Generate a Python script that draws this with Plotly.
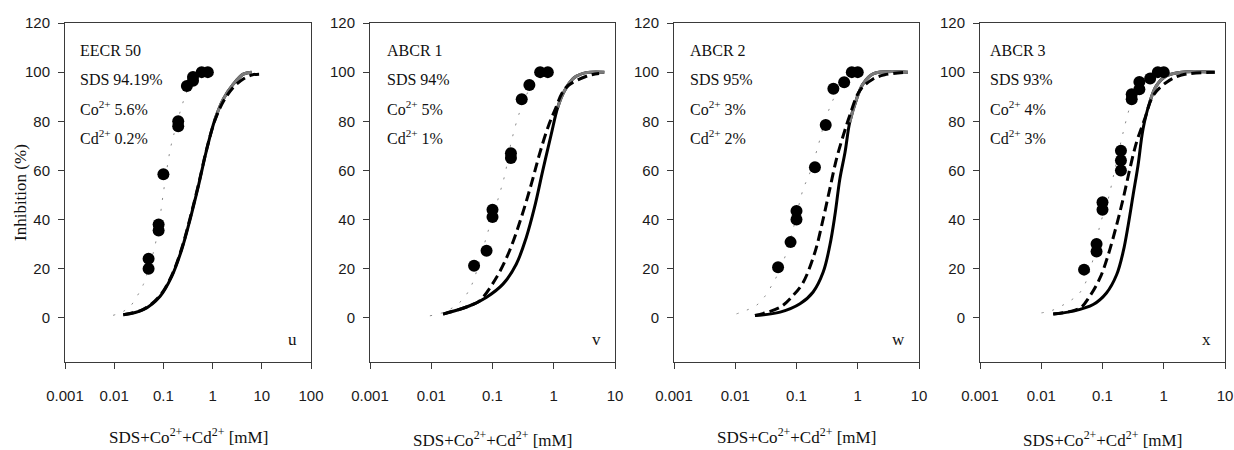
import plotly.graph_objects as go

# ---------------- data: EECR 50 ----------------
eecr50_conc = [0.05, 0.05, 0.08, 0.08, 0.1, 0.2, 0.2, 0.3, 0.4, 0.4, 0.6, 0.8]
eecr50_inh = [20, 24, 35.5, 38, 58.4, 78, 80, 94.4, 96.5, 98, 100, 100]
eecr50_fit_conc = [0.0095, 0.015, 0.021, 0.029, 0.039, 0.05, 0.065, 0.08, 0.1, 0.136, 0.16, 0.22, 0.3, 0.4, 0.6, 0.8]
eecr50_fit_inh = [1, 2.5, 4.6, 8.7, 13.5, 20, 28, 37, 51, 68, 74, 84, 92, 96, 99.5, 100]
eecr50_ca_conc = [0.0153, 0.039, 0.085, 0.148, 0.236, 0.348, 0.513, 0.76, 1.12, 1.65, 2.63, 4.2, 6.2]
eecr50_ca_inh = [1.2, 3.3, 8.7, 16.9, 27.8, 40, 53.6, 68.6, 80.8, 89, 95.1, 99.2, 100]
eecr50_ia_conc = [0.0153, 0.039, 0.085, 0.148, 0.236, 0.348, 0.513, 0.76, 1.12, 1.65, 2.63, 4.2, 6.2, 9.2]
eecr50_ia_inh = [1.2, 3.4, 9.0, 17.3, 28.3, 40.5, 54, 68.8, 80.5, 88, 93.8, 97.2, 98.8, 99.2]

# ---------------- data: ABCR 1 ----------------
abcr1_conc = [0.05, 0.08, 0.1, 0.1, 0.2, 0.2, 0.3, 0.4, 0.6, 0.8]
abcr1_inh = [21.2, 27.3, 41, 44, 65, 67, 89, 94.8, 100, 100]
abcr1_fit_conc = [0.0095, 0.015, 0.022, 0.033, 0.045, 0.06, 0.079, 0.1, 0.13, 0.16, 0.2, 0.28, 0.4, 0.51, 0.7, 0.9]
abcr1_fit_inh = [0.8, 2, 4, 7.6, 13, 22, 32.7, 41, 50.3, 58.5, 71, 84, 93, 96.4, 98.5, 99.5]
abcr1_ca_conc = [0.0156, 0.0425, 0.079, 0.148, 0.244, 0.356, 0.485, 0.66, 0.91, 1.16, 1.49, 2.17, 3.37, 6.7]
abcr1_ca_inh = [1.5, 4.9, 8.3, 13.7, 21.8, 32.7, 44.9, 59.8, 74.7, 85.6, 92.3, 97.8, 99.8, 100]
abcr1_ia_conc = [0.0156, 0.0425, 0.0616, 0.116, 0.19, 0.295, 0.43, 0.585, 0.80, 1.03, 1.58, 3.58, 5.5]
abcr1_ia_inh = [1.5, 4.9, 6.9, 16.4, 27.3, 40.8, 54.4, 66.6, 77.4, 84.2, 93.7, 98.5, 99.4]

# ---------------- data: ABCR 2 ----------------
abcr2_conc = [0.05, 0.08, 0.1, 0.1, 0.2, 0.3, 0.4, 0.6, 0.8, 1.0]
abcr2_inh = [20.6, 30.8, 40, 43.5, 61.3, 78.5, 93.2, 95.9, 100, 100]
abcr2_fit_conc = [0.0105, 0.015, 0.022, 0.03, 0.039, 0.05, 0.069, 0.09, 0.129, 0.16, 0.214, 0.3, 0.4, 0.55, 0.8, 1.0]
abcr2_fit_inh = [1.6, 3, 5, 8.5, 13, 18, 26.7, 37, 52.5, 58, 68, 81, 89, 95, 99, 100]
abcr2_ca_conc = [0.021, 0.054, 0.114, 0.187, 0.273, 0.35, 0.423, 0.51, 0.62, 0.74, 0.955, 1.22, 1.78, 6.6]
abcr2_ca_inh = [0.9, 2.3, 5.7, 10.5, 18.6, 29.4, 41.6, 56.5, 67.4, 79.6, 89, 95.2, 99.3, 100]
abcr2_ia_conc = [0.021, 0.054, 0.088, 0.129, 0.2, 0.273, 0.35, 0.45, 0.58, 0.74, 1.08, 1.78, 2.75, 6.6]
abcr2_ia_inh = [0.9, 4.3, 9.1, 14.5, 26.7, 40.3, 52.5, 64.7, 74.2, 82.3, 92.5, 97.2, 98.9, 100]

# ---------------- data: ABCR 3 ----------------
abcr3_conc = [0.05, 0.08, 0.08, 0.1, 0.1, 0.2, 0.2, 0.2, 0.3, 0.3, 0.4, 0.4, 0.6, 0.8, 1.0]
abcr3_inh = [19.6, 27, 30, 44, 47, 60, 64, 68, 89, 91, 93, 96, 97.4, 100, 100]
abcr3_fit_conc = [0.0101, 0.015, 0.022, 0.03, 0.04, 0.05, 0.062, 0.075, 0.091, 0.12, 0.158, 0.218, 0.3, 0.4, 0.6, 0.8, 1.0]
abcr3_fit_inh = [2, 3, 5, 7, 9.4, 13, 19, 27, 37.8, 47, 60, 75.6, 88, 94, 98.5, 99.5, 100]
abcr3_ca_conc = [0.0157, 0.033, 0.0705, 0.116, 0.17, 0.218, 0.263, 0.316, 0.38, 0.46, 0.59, 0.76, 1.1, 1.95, 6.8]
abcr3_ca_inh = [1.5, 2.7, 5.4, 10.1, 17.5, 27, 37.8, 50, 62, 77, 87.7, 94.5, 98.5, 100, 100]
abcr3_ia_conc = [0.0157, 0.043, 0.062, 0.091, 0.124, 0.17, 0.218, 0.28, 0.36, 0.49, 0.67, 1.1, 1.95, 6.8]
abcr3_ia_inh = [1.5, 4, 8.8, 16.2, 25.6, 37.8, 48.6, 60.7, 71.5, 81, 90.4, 95.8, 98.8, 100]

# ---------------- labels ----------------
mixture_names = ["EECR 50", "ABCR 1", "ABCR 2", "ABCR 3"]
sds_labels = ["SDS 94.19%", "SDS 94%", "SDS 95%", "SDS 93%"]
co_labels = ["Co<sup>2+</sup> 5.6%", "Co<sup>2+</sup> 5%", "Co<sup>2+</sup> 3%", "Co<sup>2+</sup> 4%"]
cd_labels = ["Cd<sup>2+</sup> 0.2%", "Cd<sup>2+</sup> 1%", "Cd<sup>2+</sup> 2%", "Cd<sup>2+</sup> 3%"]
panel_letters = ["u", "v", "w", "x"]
x_tick_values = [0.001, 0.01, 0.1, 1, 10, 100]
x_tick_labels = ["0.001", "0.01", "0.1", "1", "10", "100"]
y_tick_values = [0, 20, 40, 60, 80, 100, 120]
x_title = "SDS+Co<sup>2+</sup>+Cd<sup>2+</sup> [mM]"
y_title = "Inhibition (%)"

panels = [
    (eecr50_conc, eecr50_inh, eecr50_fit_conc, eecr50_fit_inh, eecr50_ca_conc, eecr50_ca_inh, eecr50_ia_conc, eecr50_ia_inh),
    (abcr1_conc, abcr1_inh, abcr1_fit_conc, abcr1_fit_inh, abcr1_ca_conc, abcr1_ca_inh, abcr1_ia_conc, abcr1_ia_inh),
    (abcr2_conc, abcr2_inh, abcr2_fit_conc, abcr2_fit_inh, abcr2_ca_conc, abcr2_ca_inh, abcr2_ia_conc, abcr2_ia_inh),
    (abcr3_conc, abcr3_inh, abcr3_fit_conc, abcr3_fit_inh, abcr3_ca_conc, abcr3_ca_inh, abcr3_ia_conc, abcr3_ia_inh),
]

# ---------------- geometry (pixels) ----------------
W, H = 1234, 450
panel_left = [65, 370, 674, 980]
panel_right = [311, 615, 919, 1225]
x_max_log = [2, 1, 1, 1]
plot_top, plot_bottom = 23, 362
text_inset = [13, 15, 14, 8]
line_y = [50, 79, 108, 137]
x_title_y = [436, 439, 436, 439]

SERIF = "Liberation Serif"
SANS = "Liberation Sans"
FRAME = "#3a3a3a"


def fx(p):
    return p / W


def fy(p):
    return 1 - p / H


fig = go.Figure()
annotations = []
layout = {}

for i, (pc, pi, fc, fi, cc, ci, ic, ii) in enumerate(panels):
    n = "" if i == 0 else str(i + 1)
    xa, ya = "x" + n, "y" + n

    # dotted fit through the observations
    fig.add_trace(go.Scatter(x=fc, y=fi, mode="lines", xaxis=xa, yaxis=ya,
                             line=dict(color="#8a8a8a", width=1, dash="2px,9px", shape="spline"),
                             showlegend=False, hoverinfo="skip"))
    # solid model curve
    fig.add_trace(go.Scatter(x=cc, y=ci, mode="lines", xaxis=xa, yaxis=ya,
                             line=dict(color="black", width=3, shape="spline"),
                             showlegend=False))
    # upper part of the solid curve drawn in grey
    start = max(0, next(k for k, v in enumerate(ci) if v >= 88) - 1)
    fig.add_trace(go.Scatter(x=cc[start:], y=ci[start:], mode="lines", xaxis=xa, yaxis=ya,
                             line=dict(color="#7a7a7a", width=3, shape="spline"),
                             showlegend=False, hoverinfo="skip"))
    # dashed model curve
    fig.add_trace(go.Scatter(x=ic, y=ii, mode="lines", xaxis=xa, yaxis=ya,
                             line=dict(color="black", width=3, dash="10px,5px", shape="spline"),
                             showlegend=False))
    # observations
    fig.add_trace(go.Scatter(x=pc, y=pi, mode="markers", xaxis=xa, yaxis=ya,
                             marker=dict(color="black", size=12, symbol="circle"),
                             showlegend=False))

    nt = x_max_log[i] + 4
    layout["xaxis" + n] = dict(
        type="log", domain=[fx(panel_left[i]), fx(panel_right[i])],
        range=[-3, x_max_log[i]], anchor=ya, automargin=False,
        tickvals=x_tick_values[:nt], ticktext=x_tick_labels[:nt],
        ticks="outside", ticklen=6, tickcolor=FRAME, ticklabelstandoff=14,
        showline=True, linecolor=FRAME, linewidth=1, mirror=True,
        showgrid=False, zeroline=False,
        tickfont=dict(family=SANS, size=15, color="#1a1a1a"),
    )
    layout["yaxis" + n] = dict(
        domain=[fy(plot_bottom), fy(plot_top)], range=[-18, 120], anchor=xa,
        automargin=False,
        tickvals=y_tick_values, ticks="outside", ticklen=6, tickcolor=FRAME,
        ticklabelstandoff=5,
        showline=True, linecolor=FRAME, linewidth=1, mirror=True,
        showgrid=False, zeroline=False,
        tickfont=dict(family=SANS, size=15, color="#1a1a1a"),
    )

    texts = [mixture_names[i], sds_labels[i], co_labels[i], cd_labels[i]]
    for t, yy in zip(texts, line_y):
        annotations.append(dict(text=t, xref="paper", yref="paper",
                                x=fx(panel_left[i] + text_inset[i]), y=fy(yy),
                                xanchor="left", yanchor="middle", showarrow=False,
                                font=dict(family=SERIF, size=16, color="#111")))
    annotations.append(dict(text=panel_letters[i], xref="paper", yref="paper",
                            x=fx(panel_right[i] - 12), y=fy(339),
                            xanchor="right", yanchor="middle", showarrow=False,
                            font=dict(family=SERIF, size=17, color="#111")))
    annotations.append(dict(text=x_title, xref="paper", yref="paper",
                            x=fx((panel_left[i] + panel_right[i]) / 2), y=fy(x_title_y[i]),
                            xanchor="center", yanchor="middle", showarrow=False,
                            font=dict(family=SERIF, size=17, color="#111")))

annotations.append(dict(text=y_title, xref="paper", yref="paper",
                        x=fx(20), y=fy(193), textangle=-90,
                        xanchor="center", yanchor="middle", showarrow=False,
                        font=dict(family=SERIF, size=17, color="#111")))

fig.update_layout(
    width=W, height=H,
    margin=dict(l=0, r=0, t=0, b=0),
    paper_bgcolor="white", plot_bgcolor="white",
    annotations=annotations,
    **layout,
)

fig.write_html("out.html")
